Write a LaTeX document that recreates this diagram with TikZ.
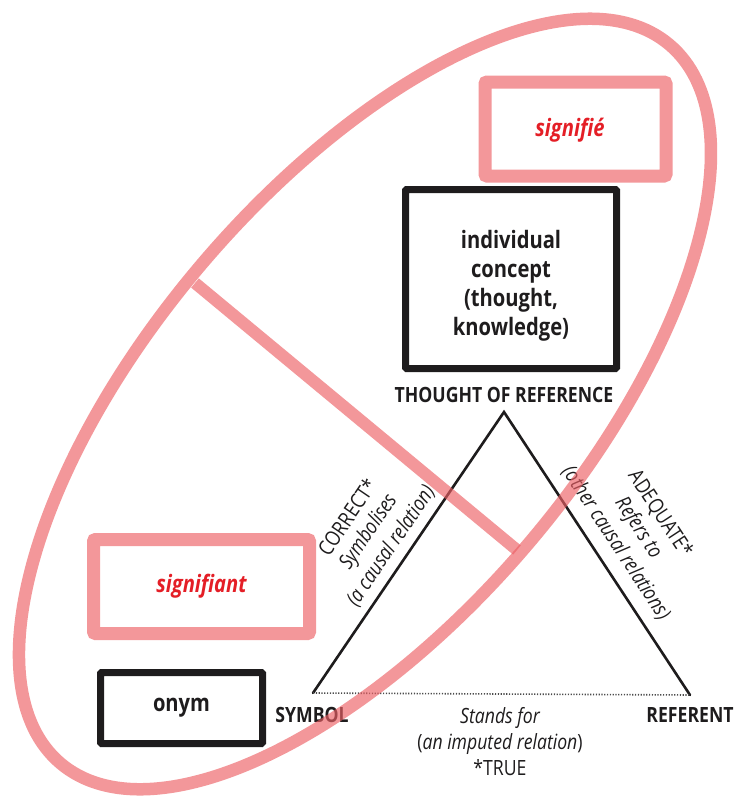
\documentclass[tikz,border=0pt]{standalone}
\usepackage{fontspec}
\setmainfont{Open Sans}[FakeStretch=0.84]
\definecolor{ringred}{RGB}{236,95,100}
\definecolor{labelred}{RGB}{228,30,38}
\definecolor{ink}{RGB}{30,28,29}
\begin{document}
\begin{tikzpicture}[x=1pt,y=-1pt,
  pinkbox/.style={draw=ringred, draw opacity=0.65, line width=13pt, rounded corners=2pt,
    inner sep=0pt, font=\fontsize{24}{29}\selectfont\bfseries\itshape, text=labelred},
  blackbox/.style={draw=ink, line width=7pt, rounded corners=1pt, inner sep=0pt,
    align=center, text=ink, font=\fontsize{24}{29}\selectfont\bfseries},
  corner/.style={inner sep=0pt, text=ink, font=\fontsize{21}{25}\selectfont\bfseries},
  relation/.style={inner sep=0pt, align=center, text=ink, font=\fontsize{21}{26}\selectfont},
  side/.style={draw=ink, line width=2.6pt, line cap=round},
  ring/.style={draw=ringred, draw opacity=0.65, line width=12.5pt}]
\useasboundingbox (0,0) rectangle (741,804);

% boxes
\node[pinkbox, minimum width=181pt, minimum height=94pt] (signifie) at (575.5,129) {};
\node[pinkbox, draw=none] (signifieText) at (570,130) {signifié};
\node[blackbox, minimum width=211pt, minimum height=179pt] (concept) at (511,279) {};
\node[blackbox, draw=none] (conceptText) at (511,286)
  {individual\\concept\\(thought,\\knowledge)};
\node[pinkbox, minimum width=216pt, minimum height=94pt] (signifiant) at (201.5,586.5) {signifiant};
\node[blackbox, minimum width=162pt, minimum height=71pt] (onym) at (181.5,708) {onym};

% triangle of reference
\coordinate (apex) at (504,412);
\coordinate (sym) at (313,693);
\coordinate (ref) at (690,695);
\node[corner] (thought) at (504,395) {THOUGHT OF REFERENCE};
\node[corner] (symbol) at (312,715) {SYMBOL};
\node[corner] (referent) at (690,715) {REFERENT};

\draw[side] (sym) -- (apex) -- (ref);
\draw[draw=black!70, line width=1.6pt, dash pattern=on 1.2pt off 1.6pt] (sym) -- (ref);

% relation labels along the sides
\node[relation, rotate=55.8] (correct) at (347,517) {CORRECT*};
\node[relation, rotate=55.8] (symbolises) at (369,532) {\itshape Symbolises};
\node[relation, rotate=55.8] (causal) at (391,546) {\itshape (a causal relation)};
\node[relation, rotate=-56.7] (adequate) at (660,514) {ADEQUATE*};
\node[relation, rotate=-56.7] (refers) at (638,528) {\itshape Refers to};
\node[relation, rotate=-56.7] (othercausal) at (616,543) {\itshape (other causal relations)};
\node[relation] (stands) at (500,742)
  {\itshape Stands for\\(\textit{an imputed relation})\\*TRUE};

% sign ellipse and its dividing chord
\coordinate (c) at (365,404);
\draw[ring, rotate around={49.7:(c)}] (c) ellipse [x radius=471, y radius=215];
\coordinate (chordA) at (195,283);
\coordinate (chordB) at (517,550);
\draw[ring, line width=12pt] (chordA) -- (chordB);
\end{tikzpicture}
\end{document}
